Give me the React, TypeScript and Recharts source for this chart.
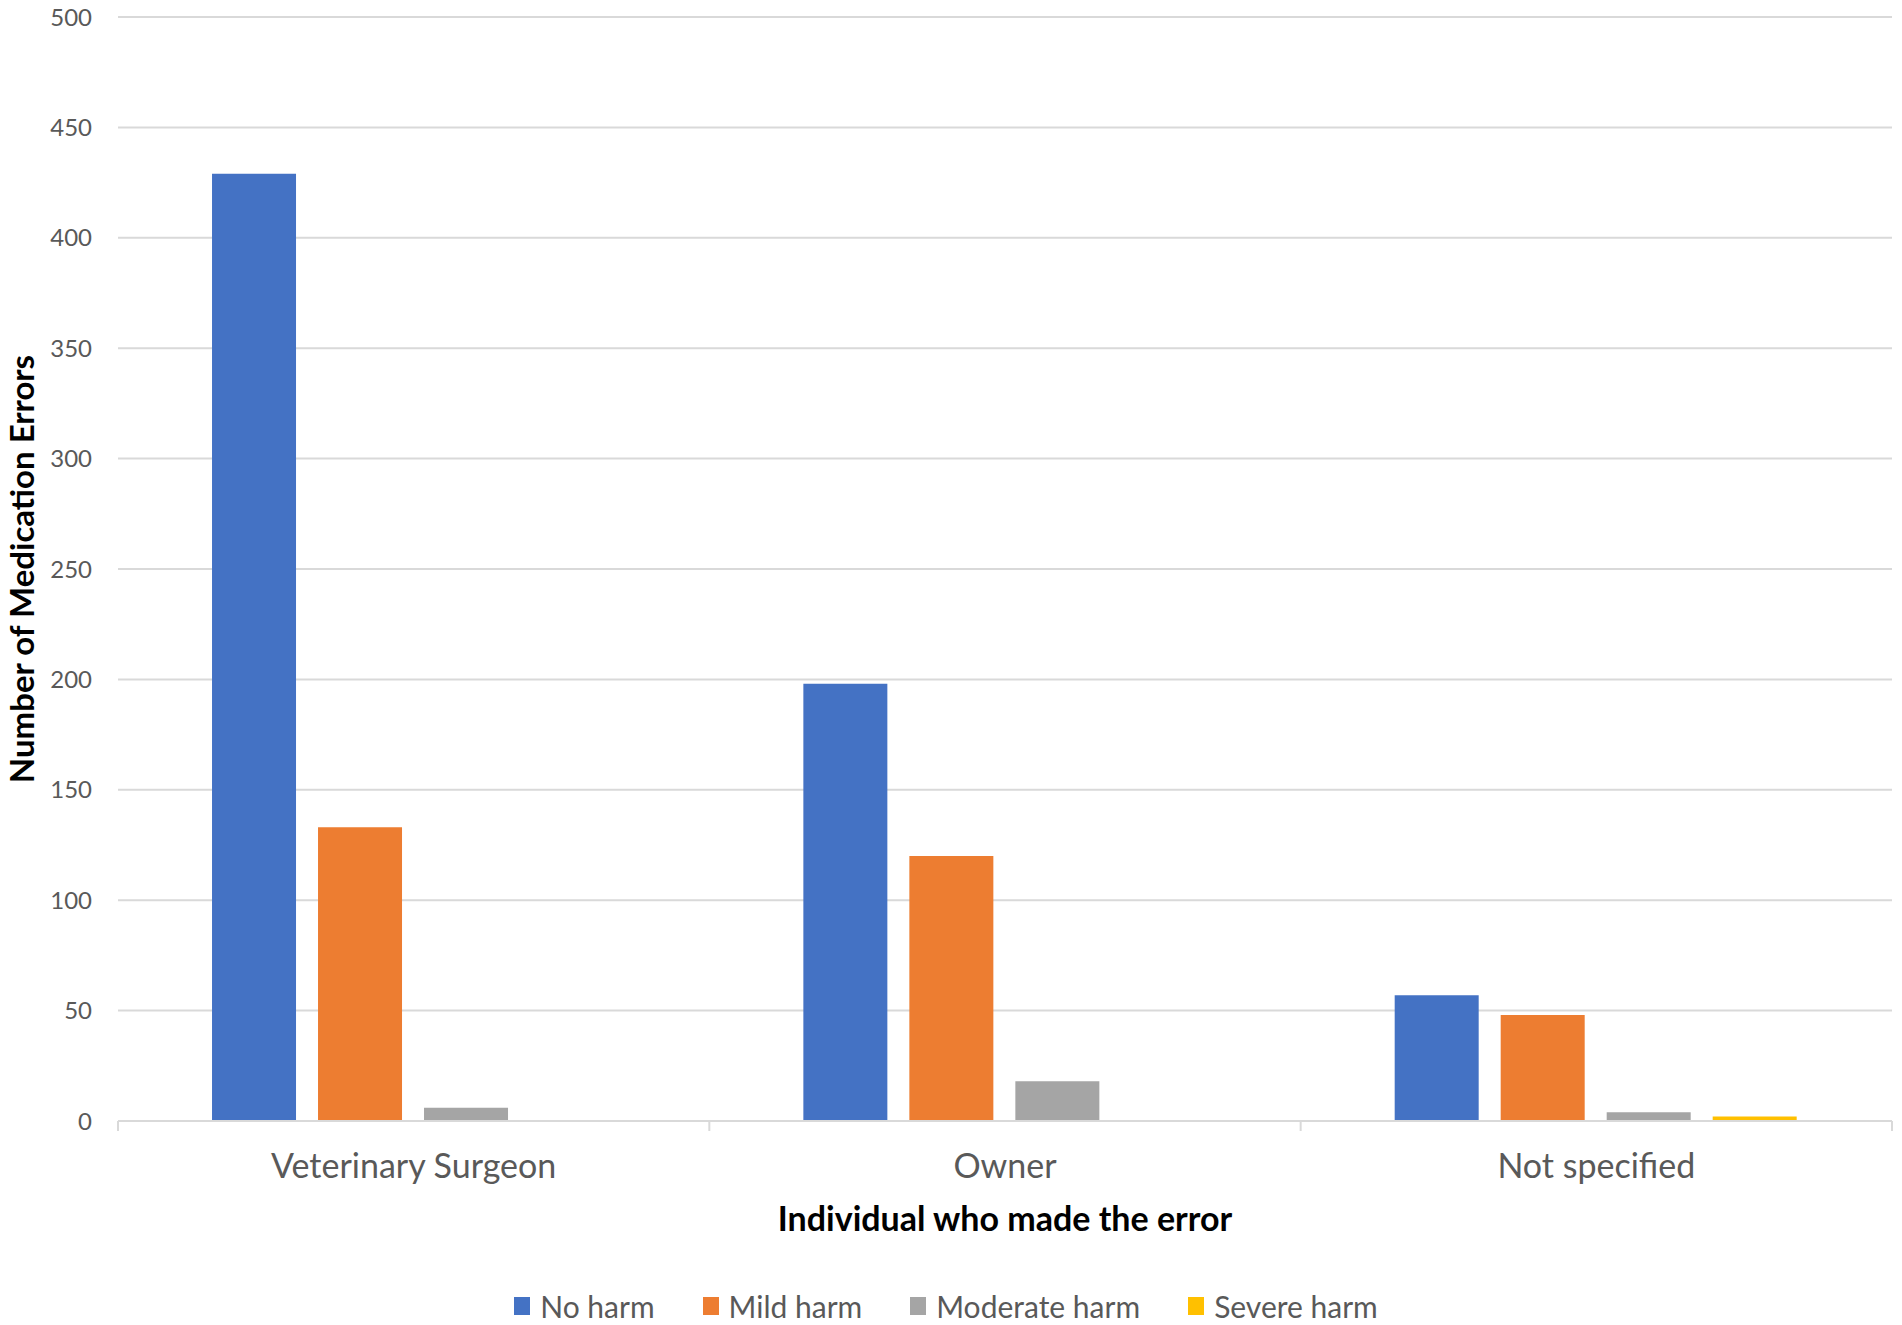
import { BarChart, Bar, XAxis, YAxis, CartesianGrid, Legend, Label } from 'recharts';

const categories = ['Veterinary Surgeon', 'Owner', 'Not specified'];
const noHarm = [429, 198, 57];
const mildHarm = [133, 120, 48];
const moderateHarm = [6, 18, 4];
const severeHarm = [0, 0, 2];
const yTicks = [0, 50, 100, 150, 200, 250, 300, 350, 400, 450, 500];

const series = [
  { key: 'noHarm', name: 'No harm', color: '#4472C4' },
  { key: 'mildHarm', name: 'Mild harm', color: '#ED7D31' },
  { key: 'moderateHarm', name: 'Moderate harm', color: '#A5A5A5' },
  { key: 'severeHarm', name: 'Severe harm', color: '#FFC000' },
];

const data = categories.map((name, i) => ({
  name,
  noHarm: noHarm[i],
  mildHarm: mildHarm[i],
  moderateHarm: moderateHarm[i],
  severeHarm: severeHarm[i],
}));

const FONT = 'Lato, "Open Sans", sans-serif';
const TEXT = '#595959';
const GRID = '#D9D9D9';

function CategoryTick(props: any) {
  const { x, y, payload, index, width } = props;
  const half = payload?.offset ?? width / categories.length / 2;
  const isLast = index === categories.length - 1;
  return (
    <g>
      <line x1={x - half} x2={x - half} y1={y} y2={y + 10} stroke={GRID} strokeWidth={2} />
      {isLast && <line x1={x + half} x2={x + half} y1={y} y2={y + 10} stroke={GRID} strokeWidth={2} />}
      <text x={x} y={y + 57} textAnchor="middle" fill={TEXT} fontSize={34} fontFamily={FONT}>
        {payload.value}
      </text>
    </g>
  );
}

function LegendContent() {
  return (
    <div style={{ display: 'flex', justifyContent: 'center', alignItems: 'center', height: 38, fontFamily: FONT, fontSize: 30, color: TEXT }}>
      {series.map((s) => (
        <div key={s.key} style={{ display: 'flex', alignItems: 'center', margin: '0 24px' }}>
          <span style={{ width: 16, height: 18, background: s.color, marginRight: 10, display: 'inline-block' }} />
          <span>{s.name}</span>
        </div>
      ))}
    </div>
  );
}

export default function App() {
  return (
    <div style={{ position: 'absolute', left: 0, top: 0, background: '#fff' }}>
      <BarChart
        width={1902}
        height={1325}
        data={data}
        margin={{ top: 17, right: 10, bottom: 0, left: 0 }}
        barCategoryGap="15.9%"
        barGap={22}
      >
        <CartesianGrid vertical={false} stroke={GRID} strokeWidth={2} />
        <XAxis
          dataKey="name"
          height={166}
          axisLine={{ stroke: GRID, strokeWidth: 2 }}
          tickLine={false}
          tickSize={0}
          tickMargin={0}
          tick={<CategoryTick />}
          interval={0}
        >
          <Label
            content={({ viewBox }: any) => (
              <text
                x={viewBox.x + viewBox.width / 2}
                y={viewBox.y + 110}
                textAnchor="middle"
                fontSize={34}
                fontWeight="bold"
                fontFamily={FONT}
                fill="#000"
              >
                Individual who made the error
              </text>
            )}
          />
        </XAxis>
        <YAxis
          width={118}
          domain={[0, 500]}
          ticks={yTicks}
          axisLine={false}
          tickLine={false}
          tickSize={0}
          tickMargin={26}
          tick={{ fill: TEXT, fontSize: 24, fontFamily: FONT }}
        >
          <Label
            content={({ viewBox }: any) => {
              const cx = viewBox.x + 21;
              const cy = viewBox.y + viewBox.height / 2;
              return (
                <text
                  x={cx}
                  y={cy}
                  transform={`rotate(-90, ${cx}, ${cy})`}
                  textAnchor="middle"
                  dominantBaseline="central"
                  fontSize={33}
                  fontWeight="bold"
                  fontFamily={FONT}
                  fill="#000"
                >
                  Number of Medication Errors
                </text>
              );
            }}
          />
        </YAxis>
        <Legend
          verticalAlign="bottom"
          content={<LegendContent />}
          wrapperStyle={{ bottom: 0, height: 38 }}
        />
        {series.map((s) => (
          <Bar key={s.key} dataKey={s.key} name={s.name} fill={s.color} isAnimationActive={false} />
        ))}
      </BarChart>
    </div>
  );
}
